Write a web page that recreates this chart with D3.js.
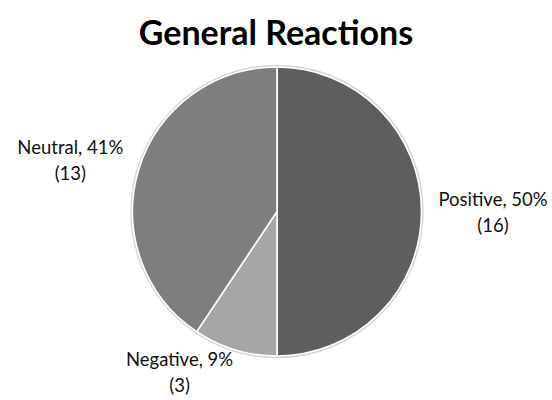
<!DOCTYPE html>
<html>
<head>
<meta charset="utf-8">
<script src="https://cdn.jsdelivr.net/npm/d3@7/dist/d3.min.js"></script>
<style>
  html, body { margin: 0; padding: 0; background: #fff; }
  svg { display: block; }
  text { font-family: Lato, "Open Sans", sans-serif; fill: #111; }
</style>
</head>
<body>
<svg id="chart" width="552" height="400"></svg>
<script>
// Survey responses, in drawing order (clockwise from 12 o'clock)
const categories = ["Positive", "Negative", "Neutral"];
const counts = [16, 3, 13];
const sliceColors = ["#5e5e5e", "#a6a6a6", "#7e7e7e"];
const title = "General Reactions";

const W = 552, H = 400;
const cx = 277, cy = 211.5, R = 144.5;

const svg = d3.select("#chart");
svg.append("rect").attr("width", W).attr("height", H).attr("fill", "#fff");

svg.append("text")
  .attr("x", 276).attr("y", 45)
  .attr("text-anchor", "middle")
  .attr("font-weight", 700)
  .attr("font-size", 34)
  .style("fill", "#000")
  .text(title);

const data = categories.map((c, i) => ({ name: c, value: counts[i] }));
const total = d3.sum(counts);
const pct = d3.format(".0%");

const pie = d3.pie().sort(null).value(d => d.value);
const arcs = pie(data);
const arc = d3.arc().innerRadius(0).outerRadius(R);
const color = d3.scaleOrdinal().domain(categories).range(sliceColors);

const g = svg.append("g").attr("transform", `translate(${cx},${cy})`);

// soft light rim around the pie
g.append("circle").attr("r", R + 1.2)
  .attr("fill", "none").attr("stroke", "#d6d6d6").attr("stroke-width", 2);

g.selectAll("path.slice").data(arcs).enter().append("path")
  .attr("class", "slice")
  .attr("d", arc)
  .attr("fill", d => color(d.data.name))
  .attr("stroke", "#fff")
  .attr("stroke-width", 1.6)
  .attr("stroke-linejoin", "round");

// label placement: outside the rim along each slice's mid angle;
// the small slice label is swung toward its trailing edge to stay on the page
const labelArc = d3.arc().innerRadius(216).outerRadius(216);
const fitArc = d3.arc().innerRadius(188).outerRadius(188);
const labelNudge = { Positive: [0, -2], Neutral: [0, 9], Negative: [7, 2] };
function labelPos(d) {
  let p;
  if (d.data.name === "Negative") {
    const a = d.endAngle;
    p = fitArc.centroid({ startAngle: a, endAngle: a });
  } else {
    p = labelArc.centroid(d);
  }
  const n = labelNudge[d.data.name] || [0, 0];
  return [p[0] + n[0], p[1] + n[1]];
}

const labels = g.selectAll("text.lbl").data(arcs).enter().append("text")
  .attr("class", "lbl")
  .attr("text-anchor", "middle")
  .attr("font-size", 18.5)
  .attr("transform", d => {
    const [x, y] = labelPos(d);
    return `translate(${x},${y})`;
  });
labels.append("tspan").attr("x", 0).attr("dy", "-0.2em")
  .text(d => `${d.data.name}, ${pct(d.data.value / total)}`);
labels.append("tspan").attr("x", 0).attr("dy", "1.42em")
  .text(d => `(${d.data.value})`);
</script>
</body>
</html>
